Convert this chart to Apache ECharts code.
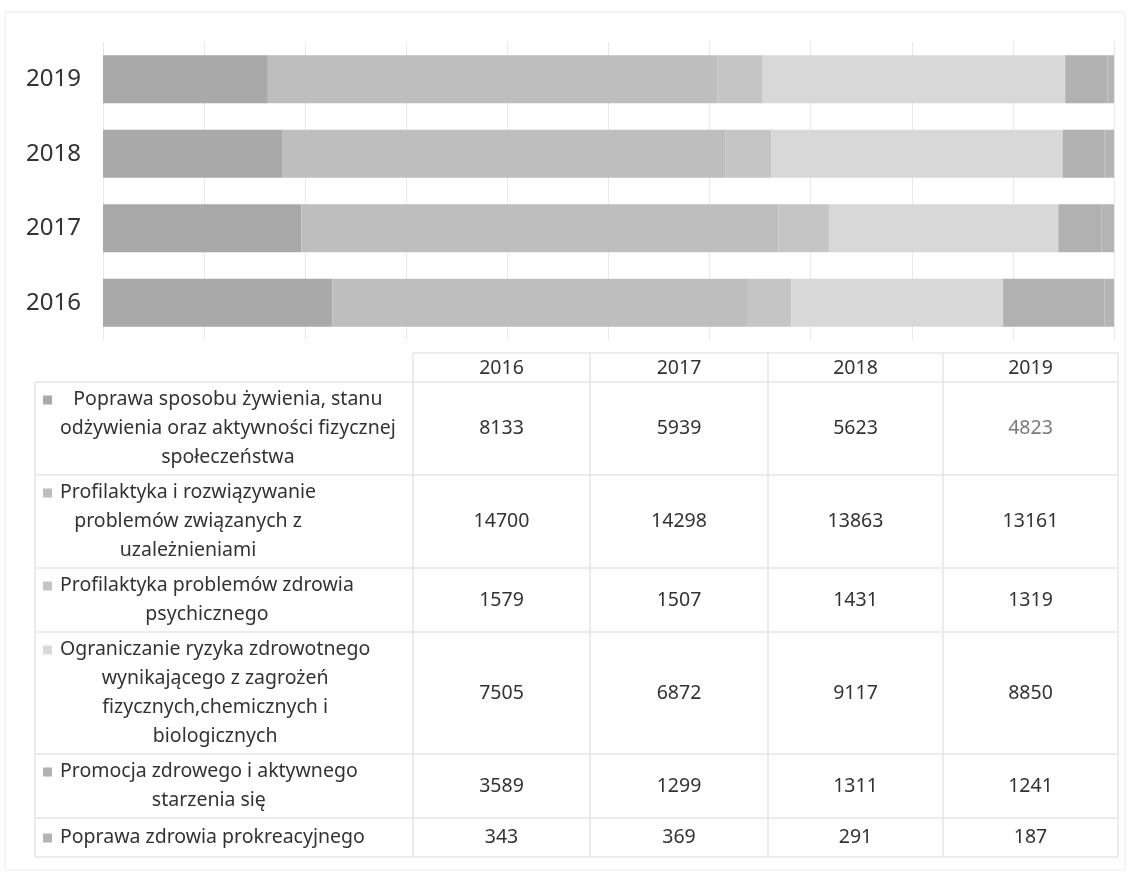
<!DOCTYPE html>
<html>
<head>
<meta charset="utf-8">
<script src="https://cdn.jsdelivr.net/npm/echarts@6/dist/echarts.min.js"></script>
<style>
  html, body { margin: 0; padding: 0; background: #fff; }
  #chart { width: 1131px; height: 876px; }
</style>
</head>
<body>
<div id="chart"></div>
<script>
// dane
var years = ['2016', '2017', '2018', '2019'];
var seriesNames = [
    'Poprawa sposobu żywienia, stanu\nodżywienia oraz aktywności fizycznej\nspołeczeństwa',
    'Profilaktyka i rozwiązywanie\nproblemów związanych z\nuzależnieniami',
    'Profilaktyka problemów zdrowia\npsychicznego',
    'Ograniczanie ryzyka zdrowotnego\nwynikającego z zagrożeń\nfizycznych,chemicznych i\nbiologicznych',
    'Promocja zdrowego i aktywnego\nstarzenia się',
    'Poprawa zdrowia prokreacyjnego'
];
var zywienie = [8133, 5939, 5623, 4823];
var uzaleznienia = [14700, 14298, 13863, 13161];
var psychiczne = [1579, 1507, 1431, 1319];
var zagrozenia = [7505, 6872, 9117, 8850];
var starzenie = [3589, 1299, 1311, 1241];
var prokreacja = [343, 369, 291, 187];
var colors = ['#a9a9a9', '#bebebe', '#c5c5c5', '#d8d8d8', '#b1b1b1', '#b4b4b4'];

var values = [zywienie, uzaleznienia, psychiczne, zagrozenia, starzenie, prokreacja];

// sumy dla 100%
var totals = years.map(function (y, i) {
    var s = 0;
    values.forEach(function (v) { s += v[i]; });
    return s;
});

var myChart = echarts.init(document.getElementById('chart'));

var series = values.map(function (v, k) {
    return {
        name: seriesNames[k],
        type: 'bar',
        stack: 'all',
        barWidth: 48,
        itemStyle: { color: colors[k] },
        data: v.map(function (x, i) { return x / totals[i] * 100; })
    };
});

// tabela danych pod wykresem
var font = 'Noto Sans';
var fs = 19.5;
var lineH = 29;
var colX = [413, 590, 768, 943, 1118];
var rowY = [353, 382, 475, 568, 632, 754, 818, 857];
var lineColor = '#e6e6e6';

var ctx = document.createElement('canvas').getContext('2d');
ctx.font = fs + 'px "' + font + '"';

var graphic = [];
// ramka całości
graphic.push({ type: 'rect', shape: { x: 5, y: 12, width: 1120, height: 858 },
    style: { fill: 'none', stroke: '#ececec', lineWidth: 1 }, silent: true });
// linie poziome
rowY.forEach(function (y, i) {
    graphic.push({ type: 'line', shape: { x1: i === 0 ? colX[0] : 35, y1: y, x2: colX[4], y2: y },
        style: { stroke: lineColor, lineWidth: 1.5 }, silent: true });
});
// linie pionowe
graphic.push({ type: 'line', shape: { x1: 35, y1: rowY[1], x2: 35, y2: rowY[7] },
    style: { stroke: lineColor, lineWidth: 1.5 }, silent: true });
colX.forEach(function (x) {
    graphic.push({ type: 'line', shape: { x1: x, y1: rowY[0], x2: x, y2: rowY[7] },
        style: { stroke: lineColor, lineWidth: 1.5 }, silent: true });
});
// nagłówek
years.forEach(function (y, j) {
    graphic.push({ type: 'text', x: (colX[j] + colX[j + 1]) / 2, y: (rowY[0] + rowY[1]) / 2 + 1,
        style: { text: y, font: fs + 'px "' + font + '"', fill: '#333', align: 'center', verticalAlign: 'middle' } });
});
// wiersze
seriesNames.forEach(function (name, k) {
    var top = rowY[k + 1], bot = rowY[k + 2];
    var lines = name.split('\n');
    var w = 0;
    lines.forEach(function (l) { w = Math.max(w, ctx.measureText(l).width); });
    var blockH = lines.length * lineH;
    var ty = (top + bot) / 2 - blockH / 2;
    graphic.push({ type: 'text', x: 60 + w / 2, y: ty,
        style: { text: name, font: fs + 'px "' + font + '"', fill: '#333', align: 'center',
            verticalAlign: 'top', lineHeight: lineH } });
    graphic.push({ type: 'rect', shape: { x: 43, y: ty + lineH / 2 - 4, width: 9, height: 9 },
        style: { fill: colors[k] } });
    values[k].forEach(function (v, j) {
        graphic.push({ type: 'text', x: (colX[j] + colX[j + 1]) / 2, y: (top + bot) / 2,
            style: { text: String(v), font: fs + 'px "' + font + '"',
                fill: (k === 0 && j === 3) ? '#7a7a7a' : '#333', align: 'center', verticalAlign: 'middle' } });
    });
});

var option = {
    backgroundColor: '#fff',
    animation: false,
    grid: { left: 103, right: 17, top: 42, bottom: 536 },
    xAxis: {
        type: 'value',
        min: 0,
        max: 100,
        interval: 10,
        axisLabel: { show: false },
        axisLine: { show: false },
        axisTick: { show: false },
        splitLine: { lineStyle: { color: '#e8e8e8' } }
    },
    yAxis: {
        type: 'category',
        data: years,
        axisLine: { show: false },
        axisTick: { show: false },
        axisLabel: { fontSize: 24, fontFamily: font, color: '#333', margin: 22 }
    },
    series: series,
    graphic: graphic
};

myChart.setOption(option);
</script>
</body>
</html>
